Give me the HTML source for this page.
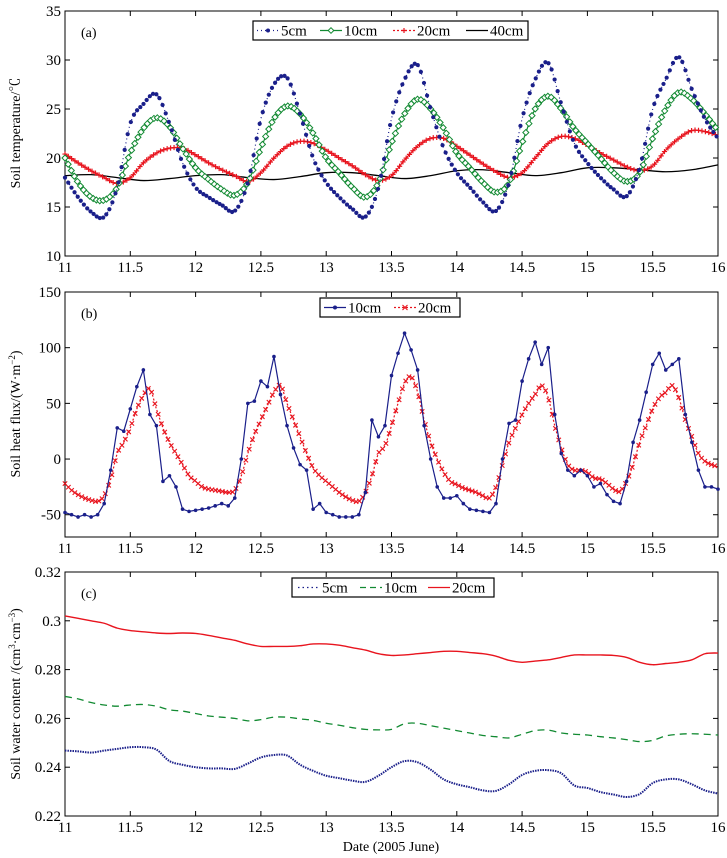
<!DOCTYPE html>
<html><head><meta charset="utf-8"><style>
html,body{margin:0;padding:0;background:#fff}
svg{display:block;font-family:"Liberation Serif","Noto Serif CJK SC",serif}
</style></head><body>
<svg id="chart" width="727" height="858" viewBox="0 0 727 858" xmlns="http://www.w3.org/2000/svg"></svg>
<script>
const xTicks=[11,11.5,12,12.5,13,13.5,14,14.5,15,15.5,16];
const xTickLabels=["11","11.5","12","12.5","13","13.5","14","14.5","15","15.5","16"];
const tempTicks=[10,15,20,25,30,35];
const fluxTicks=[-50,0,50,100,150];
const waterTicks=[0.22,0.24,0.26,0.28,0.30,0.32];
const waterTickLabels=["0.22","0.24","0.26","0.28","0.3","0.32"];
const t5=[18,16,14.5,14,17,23.5,25.5,26.5,23.5,19.5,17,16,15.2,14.6,17.5,24,27.5,28.2,24.5,20,17.5,16,14.8,14,17,24,28,29.5,25,21,18.5,17,15.5,14.6,17.5,24,28,29.7,25.5,21.5,19.5,18,16.8,16.1,19,25,28,30.3,27,24,22];
const t10=[20,17.5,16,15.7,17,20.5,23,24.1,23.2,21,19,17.8,16.8,16.2,17.5,21,24,25.3,24.5,22.5,20,18.5,17,16,17.5,21.5,24.5,26,25,23,20.5,19,17.5,16.5,17.5,21.5,25,26.3,25,23,21.5,20,18.5,17.6,18.5,22,25,26.7,26,24.5,22.8];
const t20=[20.4,19.5,18.7,18,17.4,18,19.5,20.5,21,21,20.3,19.5,18.8,18.2,17.6,18.5,20,21.2,21.7,21.5,20.8,20,19.2,18.3,17.7,18.2,19.8,21.2,22,22,21.2,20.3,19.4,18.6,18,18.5,20,21.5,22.2,22,21.3,20.5,19.8,19.1,18.7,19.2,20.8,22,22.8,22.7,22.3];
const t40=[18.2,18.3,18.0,17.7,17.9,18.2,18.3,18.0,17.8,18.1,18.5,18.5,18.2,17.9,18.2,18.7,18.8,18.5,18.2,18.5,19.0,19.0,18.8,18.6,18.8,19.3];
const g10=[-48,-50,-52,-50,-52,-50,-40,-10,28,25,45,65,80,40,30,-20,-15,-25,-45,-47,-46,-45,-44,-42,-40,-42,-35,0,50,52,70,65,92,58,30,10,-5,-10,-45,-40,-48,-50,-52,-52,-52,-50,-30,35,20,30,75,95,113,98,80,30,0,-25,-35,-35,-33,-40,-45,-46,-47,-48,-40,0,32,35,70,90,105,85,100,40,5,-10,-15,-10,-15,-25,-22,-32,-38,-40,-20,15,35,60,85,95,80,85,90,40,15,-10,-25,-25,-27];
const g20=[-22,-28,-32,-35,-37,-38,-33,-18,5,15,28,45,57,63,45,28,15,5,-5,-15,-20,-25,-27,-28,-29,-30,-28,-15,5,22,35,48,60,66,50,35,20,5,-8,-15,-20,-25,-30,-34,-37,-38,-30,-15,5,12,30,50,68,74,60,35,15,0,-12,-20,-23,-26,-28,-30,-33,-35,-25,-5,15,28,40,50,58,66,55,30,10,-5,-10,-10,-12,-17,-18,-22,-27,-29,-20,-5,15,30,45,55,60,66,55,35,20,5,-2,-5,-7];
const w5=[.2468,.2465,.246,.2468,.2475,.2482,.2482,.2472,.2425,.241,.240,.2395,.2395,.2393,.2415,.244,.245,.2448,.241,.2385,.2365,.2355,.2345,.234,.2365,.24,.2425,.242,.239,.235,.233,.2318,.2305,.2303,.233,.2368,.2385,.2388,.2375,.2325,.2315,.2298,.2288,.2278,.229,.2335,.235,.235,.233,.2305,.2292];
const w10=[.269,.268,.2665,.2655,.265,.2655,.2657,.265,.2635,.263,.262,.261,.2605,.260,.259,.2595,.2605,.2605,.2598,.2592,.258,.2572,.2562,.2555,.2553,.2555,.2578,.258,.257,.256,.255,.254,.253,.2525,.252,.2535,.255,.2552,.254,.2535,.2532,.2525,.252,.2513,.2505,.251,.2528,.2535,.2537,.2535,.2532];
const w20=[.302,.301,.300,.299,.297,.296,.2955,.295,.2948,.295,.2948,.294,.293,.292,.2905,.2895,.2895,.2895,.2898,.2905,.2905,.290,.289,.288,.2865,.2858,.286,.2865,.287,.2875,.2875,.287,.2865,.2855,.2838,.283,.2835,.284,.285,.286,.286,.286,.2858,.285,.283,.282,.2825,.283,.284,.2865,.2868];

const svg=document.getElementById('chart');
const NS='http://www.w3.org/2000/svg';
function mk(tag,attrs,parent){const e=document.createElementNS(NS,tag);for(const k in attrs)e.setAttribute(k,attrs[k]);(parent||svg).appendChild(e);return e;}
const X0=65,X1=718;
function sx(d){return X0+(d-11)/5*(X1-X0);}

function panel(name,top,bot,ymin,ymax,yt,ytl,letter,xlabY){
  const g=mk('g',{});
  
  
  const sy=v=>bot-(v-ymin)/(ymax-ymin)*(bot-top);
  const r=mk('rect',{x:X0,y:top,width:X1-X0,height:bot-top,fill:'none',stroke:'#000','stroke-width':1},g);
  
  
  xTicks.forEach((d,i)=>{
    const x=sx(d);
    mk('line',{x1:x,y1:bot,x2:x,y2:bot-5,stroke:'#000'},g);
    mk('line',{x1:x,y1:top,x2:x,y2:top+5,stroke:'#000'},g);
    const t=mk('text',{x:x,y:xlabY,'text-anchor':'middle','font-size':15},g);
    t.textContent=xTickLabels[i];
    
    
  });
  yt.forEach((v,i)=>{
    const y=sy(v);
    mk('line',{x1:X0,y1:y,x2:X0+5,y2:y,stroke:'#000'},g);
    mk('line',{x1:X1,y1:y,x2:X1-5,y2:y,stroke:'#000'},g);
    const t=mk('text',{x:X0-4,y:y+5,'text-anchor':'end','font-size':15},g);
    t.textContent=ytl[i];
    
    
  });
  const L=mk('text',{x:81,y:top+26,'font-size':14},g);
  L.textContent=letter;
  
  
  return {g,sy};
}
function smoothPath(pts){
  let d=`M${pts[0][0]},${pts[0][1]}`;
  for(let i=0;i<pts.length-1;i++){
    const p0=pts[Math.max(0,i-1)],p1=pts[i],p2=pts[i+1],p3=pts[Math.min(pts.length-1,i+2)];
    const c1=[p1[0]+(p2[0]-p0[0])/6,p1[1]+(p2[1]-p0[1])/6];
    const c2=[p2[0]-(p3[0]-p1[0])/6,p2[1]-(p3[1]-p1[1])/6];
    d+=`C${c1[0]},${c1[1]} ${c2[0]},${c2[1]} ${p2[0]},${p2[1]}`;
  }
  return d;
}
// smooth: draw smooth curve; markerGap>0 places markers along curve every gap px (in x)
function series(p,vals,step,name,color,dash,marker,msize,smooth,markerGap,sw){
  const g=mk('g',{},p.g);
  
  
  const pts=vals.map((v,i)=>[sx(11+i*step),p.sy(v)]);
  let pl;
  if(smooth)pl=mk('path',{d:smoothPath(pts),fill:'none',stroke:color,'stroke-width':sw||1.2},g);
  else pl=mk('polyline',{points:pts.map(q=>q.join(',')).join(' '),fill:'none',stroke:color,'stroke-width':sw||1.2},g);
  if(dash)pl.setAttribute('stroke-dasharray',dash);
  if(!marker)return;
  if(markerGap&&smooth){
    const len=pl.getTotalLength();
    let lastX=-1e9;
    for(let s=0;s<=len;s+=0.5){
      const q=pl.getPointAtLength(s);
      if(q.x-lastX>=markerGap){drawMarker(g,marker,q.x,q.y,color,msize);lastX=q.x;}
    }
  } else pts.forEach(q=>drawMarker(g,marker,q[0],q[1],color,msize));
}
function drawMarker(g,m,x,y,c,s){
  if(m==='dot')mk('circle',{cx:x,cy:y,r:s,fill:c},g);
  else if(m==='diamond')mk('path',{d:`M${x},${y-s}L${x+s},${y}L${x},${y+s}L${x-s},${y}Z`,fill:'#fff',stroke:c,'stroke-width':1},g);
  else if(m==='plus'){mk('path',{d:`M${x-s},${y}H${x+s}M${x},${y-s}V${y+s}`,stroke:c,'stroke-width':1.2},g);}
  else if(m==='x'){mk('path',{d:`M${x-s},${y-s}L${x+s},${y+s}M${x-s},${y+s}L${x+s},${y-s}`,stroke:c,'stroke-width':1.1},g);}
}
function legend(p,x,y,w,h,items){
  const g=mk('g',{},p.g);
  
  
  mk('rect',{x:x,y:y,width:w,height:h,fill:'#fff',stroke:'#000','stroke-width':1.2},g);
  items.forEach(it=>{
    const e=mk('g',{},g);
    
    
    const cy=y+h/2;
    const l=mk('line',{x1:it.x,y1:cy,x2:it.x+22,y2:cy,stroke:it.c,'stroke-width':1.2},e);
    if(it.dash)l.setAttribute('stroke-dasharray',it.dash);
    if(it.m)drawMarker(e,it.m,it.x+11,cy,it.c,it.s);
    const t=mk('text',{x:it.x+24,y:cy+5,'font-size':15},e);
    t.textContent=it.t;
  });
}
function ylabel(text,cy,name){
  const t=mk('text',{x:0,y:0,'text-anchor':'middle','font-size':14,transform:`translate(20,${cy}) rotate(-90)`});
  t.innerHTML=text;
  
  
}

const pa=panel('temperature',11,256,10,35,tempTicks,tempTicks.map(String),'(a)',272);
series(pa,t40,0.2,'series-40cm','#000',null,null,0,true,0,1.3);
series(pa,t20,0.1,'series-20cm','#e8141e',null,'plus',2.6,true,3.2);
series(pa,t10,0.1,'series-10cm','#128a32',null,'diamond',3,true,3);
series(pa,t5,0.1,'series-5cm','#1a1f8a','1,3','dot',2.1,true,3);
legend(pa,253,21,275,19,[{x:257,t:'5cm',c:'#1a1f8a',dash:'1,3',m:'dot',s:2},{x:320,t:'10cm',c:'#128a32',m:'diamond',s:2.8},{x:393,t:'20cm',c:'#e8141e',dash:'2,2',m:'plus',s:2.5},{x:466,t:'40cm',c:'#000'}]);
ylabel('Soil temperature/℃',133,'y-axis-title-temperature');

const pb=panel('heat-flux',292,537,-70,150,fluxTicks,fluxTicks.map(String),'(b)',553);
series(pb,g20,0.05,'series-flux-20cm','#e8141e','2,2','x',2.2,true,3.2);
series(pb,g10,0.05,'series-flux-10cm','#1a1f8a',null,'dot',1.8,false);
legend(pb,320,298,140,19,[{x:324,t:'10cm',c:'#1a1f8a',m:'dot',s:2},{x:394,t:'20cm',c:'#e8141e',dash:'2,2',m:'x',s:2.5}]);
ylabel('Soil heat flux/(W·m<tspan dy="-5" font-size="9">−2</tspan><tspan dy="5">)</tspan>',414,'y-axis-title-flux');

const pc=panel('water',572,816,0.22,0.32,waterTicks,waterTickLabels,'(c)',832);
series(pc,w20,0.1,'series-water-20cm','#e8141e',null,null,0,true,0,1.4);
series(pc,w10,0.1,'series-water-10cm','#128a32','7,5',null,0,true,0,1.3);
series(pc,w5,0.1,'series-water-5cm','#1a1f8a','1.5,1',null,0,true,0,2);
legend(pc,292,578,202,19,[{x:298,t:'5cm',c:'#1a1f8a',dash:'1.5,3'},{x:360,t:'10cm',c:'#128a32',dash:'6,4'},{x:428,t:'20cm',c:'#e8141e'}]);
ylabel('Soil water content /(cm<tspan dy="-5" font-size="9">3</tspan><tspan dy="5">·cm</tspan><tspan dy="-5" font-size="9">−3</tspan><tspan dy="5">)</tspan>',694,'y-axis-title-water');
const xt=mk('text',{x:391,y:851,'text-anchor':'middle','font-size':14});
xt.textContent='Date (2005 June)';


</script>
</body></html>
